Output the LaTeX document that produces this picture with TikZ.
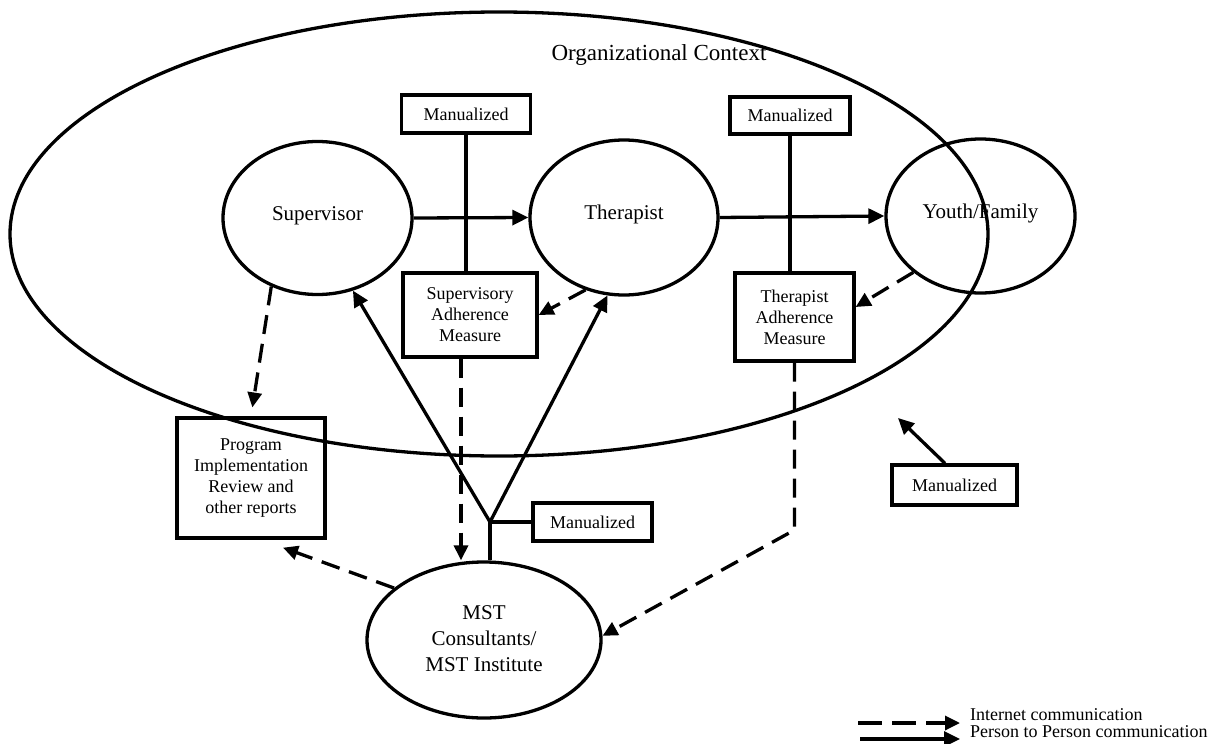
\documentclass[tikz,border=0pt]{standalone}
\usepackage{fontspec}
\setmainfont{Liberation Serif}
\usetikzlibrary{arrows.meta,shapes.geometric,calc}
\begin{document}
\begin{tikzpicture}[x=1pt,y=-1pt,
 every node/.style={inner sep=0pt},
 ln/.style={line width=3.3pt},
 oval/.style={draw,ellipse,line width=3.3pt,font=\fontsize{21}{26}\selectfont,inner sep=0pt},
 box/.style={draw,rectangle,line width=3.3pt,font=\fontsize{18}{21}\selectfont,align=center,inner sep=0pt},
 solidarrow/.style={line width=3.3pt,-{Triangle[length=16pt,width=15pt]}},
 netarrow/.style={line width=3.3pt,dash pattern=on 19pt off 10pt,-{Triangle[length=15pt,width=14pt]}},
 legtext/.style={anchor=west,font=\fontsize{18}{17}\selectfont},
]
\useasboundingbox (0,0) rectangle (1224,744);

% organizational context
\node[draw,ellipse,line width=3.3pt,minimum width=978pt,minimum height=444pt] (ctx) at (499,234) {};
\node[font=\fontsize{23}{26}\selectfont] (org) at (659,55) {Organizational Context};

% actors
\node[oval,minimum width=189pt,minimum height=153pt] (sup) at (317.5,218) {\raisebox{9.5pt}{Supervisor}};
\node[oval,minimum width=188pt,minimum height=155pt] (ther) at (624,217.5) {\raisebox{10.5pt}{Therapist}};
\node[oval,minimum width=189pt,minimum height=154pt] (youth) at (980.5,216) {\raisebox{9pt}{Youth/Family}};
\node[oval,minimum width=234pt,minimum height=156pt] (mst) at (484,640) {\raisebox{10pt}{\begin{tabular}{@{}c@{}}MST\\Consultants/\\MST Institute\end{tabular}}};

% boxes
\node[box,minimum width=129pt,minimum height=38pt] (man1) at (466,114) {Manualized};
\node[box,minimum width=134pt,minimum height=84pt] (sam) at (470,315) {Supervisory\\Adherence\\Measure};
\node[box,minimum width=120pt,minimum height=37pt] (man2) at (790,115.5) {Manualized};
\node[box,minimum width=119pt,minimum height=88pt] (tam) at (794.5,317) {Therapist\\Adherence\\Measure};
\node[box,minimum width=148pt,minimum height=120pt] (prog) at (251,478) {\raisebox{7.5pt}{\begin{tabular}{@{}c@{}}Program\\Implementation\\Review and\\other reports\end{tabular}}};
\node[box,minimum width=119pt,minimum height=38pt] (man3) at (592.5,522) {Manualized};
\node[box,minimum width=125pt,minimum height=40pt] (man4) at (954.5,485) {Manualized};

% person-to-person
\draw[solidarrow] (sup.east) -- (ther.west);
\draw[solidarrow] (ther.east) -- (youth.west);
\draw[ln] (man1.south) -- (man1.south |- sam.north);
\draw[ln] (man2.south) -- (man2.south |- tam.north);

\coordinate (jn) at (490,522);
\draw[ln] (jn) -- (jn |- mst.north);
\draw[ln] (jn) -- (man3.west);
\draw[solidarrow] (jn) -- (sup.-64);
\draw[solidarrow] (jn) -- (ther.-102);

\coordinate (m4t) at (898,418);
\draw[solidarrow] ($(man4.north)+(-9.5,0)$) -- (m4t);

% internet
\draw[netarrow] (ther.242) -- (sam.east);
\draw[netarrow] (youth.220) -- ($(tam.east)+(0,-10)$);
\draw[netarrow,shorten >=9pt] (sup.236) -- (prog.north);
\coordinate (sd) at ($(sam.south)+(-9,0)$);
\draw[netarrow] (sd) -- (sd |- mst.north);
\coordinate (tc) at (795,530);
\draw[netarrow] (tam.south) -- (tam.south |- tc) -- (mst.2);
\draw[netarrow] (mst.150) -- ($(prog.south)+(32,8)$);

% legend
\coordinate (la1) at (858,723); \coordinate (la2) at (960,723);
\coordinate (lb1) at (860,739); \coordinate (lb2) at (960,739);
\draw[netarrow,dash pattern=on 24pt off 10pt] (la1) -- (la2);
\draw[solidarrow] (lb1) -- (lb2);
\node[legtext] (lt1) at (970,715) {Internet communication};
\node[legtext] (lt2) at (970,732) {Person to Person communication};
\end{tikzpicture}
\end{document}
